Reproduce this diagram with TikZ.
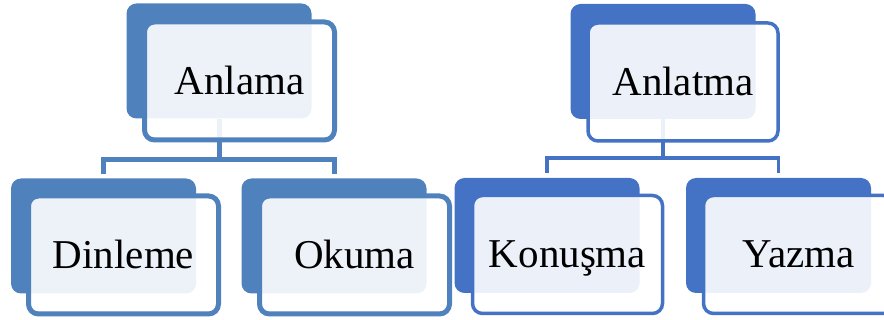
\documentclass[tikz,border=0pt]{standalone}
\usepackage{fontspec}
\setmainfont{Liberation Serif}
\definecolor{leftblue}{HTML}{4F81BD}
\definecolor{rightblue}{HTML}{4472C4}
\begin{document}
\begin{tikzpicture}
        [x=1pt,y=-1pt,
        back/.style={fill=#1,rounded corners=10pt,inner sep=0pt,
                minimum width=185pt,minimum height=115pt},
        front/.style={draw=#1,fill=white,fill opacity=0.9,text opacity=1,
                rounded corners=10pt,inner sep=0pt,minimum width=190pt,
                minimum height=118pt,text height=27pt,text depth=0pt,
                font=\fontsize{41}{48}\selectfont},
        link/.style={draw=#1,shorten >=4.5pt},
        left tree/.style={line width=5pt},
        right tree/.style={line width=3.5pt}]
        \useasboundingbox (0,0) rectangle (884,320);
        \clip (0,0) rectangle (884,320);
        \node[back=leftblue] (anlama-b) at (219,61) {};
        \node[back=leftblue] (dinleme-b) at (103.5,236) {};
        \node[back=leftblue] (okuma-b) at (334,236) {};
        \coordinate (anlama-fork) at (219,160);
        \draw[left tree,leftblue] (anlama-b.south) -- (anlama-fork);
        \draw[left tree,link=leftblue] (anlama-fork) -| (dinleme-b.north);
        \draw[left tree,link=leftblue] (anlama-fork) -| (okuma-b.north);
        \node[left tree,front=leftblue] (anlama) at (239.5,81) {Anlama};
        \node[left tree,front=leftblue] (dinleme) at (123.5,255) {Dinleme};
        \node[left tree,front=leftblue] (okuma) at (354.5,255) {Okuma};
        \node[back=rightblue] (anlatma-b) at (663,61.5) {};
        \node[back=rightblue] (konusma-b) at (547,235.5) {};
        \node[back=rightblue] (yazma-b) at (778.5,235.5) {};
        \coordinate (anlatma-fork) at (663,158);
        \draw[right tree,rightblue] (anlatma-b.south) -- (anlatma-fork);
        \draw[right tree,link=rightblue] (anlatma-fork) -| (konusma-b.north);
        \draw[right tree,link=rightblue] (anlatma-fork) -| (yazma-b.north);
        \node[right tree,front=rightblue] (anlatma) at (683,82) {Anlatma};
        \node[right tree,front=rightblue] (konusma) at (567.5,254.5) {Konuşma};
        \node[right tree,front=rightblue] (yazma) at (798.5,254.5) {Yazma};
\end{tikzpicture}
\end{document}
